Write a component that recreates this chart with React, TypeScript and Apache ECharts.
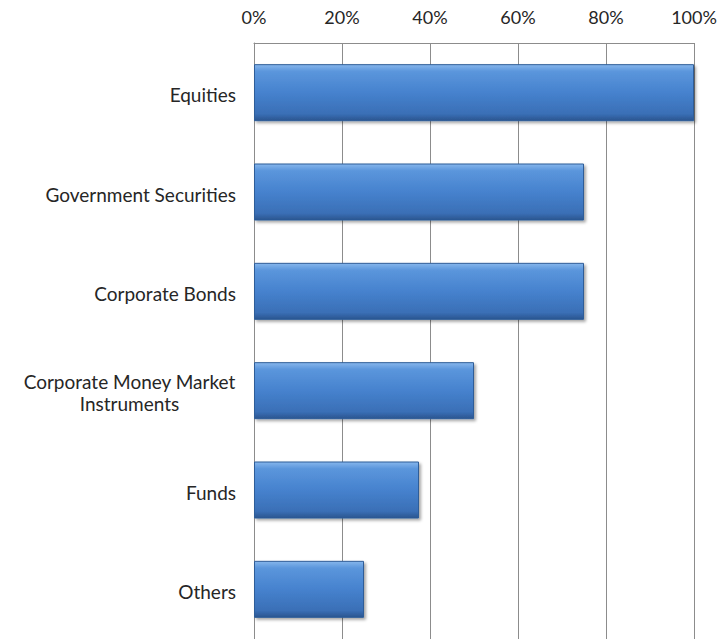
import React, { useEffect, useRef } from "react";
import * as echarts from "echarts";

const categories = [
  "Equities",
  "Government Securities",
  "Corporate Bonds",
  "Corporate Money Market\nInstruments",
  "Funds",
  "Others",
];
const values = [100, 75, 75, 50, 37.5, 25];
const xTicks = { min: 0, max: 100, interval: 20 };

const FONT = "Lato, 'Open Sans', sans-serif";
const CAT_SIZE = 19;
const TICK_SIZE = 18;

function measure(text: string): number {
  const c = document.createElement("canvas").getContext("2d");
  if (!c) return text.length * 9;
  c.font = `${CAT_SIZE}px ${FONT}`;
  return c.measureText(text).width;
}

export default function App() {
  const ref = useRef<HTMLDivElement>(null);
  useEffect(() => {
    if (!ref.current) return;
    const chart = echarts.init(ref.current, undefined, { renderer: "svg" });
    chart.setOption({
      animation: false,
      grid: { left: 254, top: 43, width: 440, height: 601, containLabel: false },
      xAxis: {
        type: "value",
        position: "top",
        min: xTicks.min,
        max: xTicks.max,
        interval: xTicks.interval,
        axisLine: { show: true, lineStyle: { color: "#8c8c8c", width: 1 } },
        axisTick: { show: false },
        splitLine: { show: true, lineStyle: { color: "#8c8c8c", width: 1 } },
        axisLabel: {
          formatter: "{value}%",
          margin: 17,
          color: "#262626",
          fontFamily: FONT,
          fontSize: TICK_SIZE,
        },
      },
      yAxis: {
        type: "category",
        inverse: true,
        data: categories,
        axisLine: { show: true, lineStyle: { color: "#8c8c8c", width: 1 } },
        axisTick: { show: false },
        axisLabel: {
          margin: 18,
          color: "#262626",
          fontFamily: FONT,
          fontSize: CAT_SIZE,
          lineHeight: 22,
          padding: [4, 0, 0, 0],
          formatter: (v: string) => {
            if (v.indexOf("\n") < 0) return v;
            return v
              .split("\n")
              .map((l) => `{c|${l}}`)
              .join("\n");
          },
          rich: {
            c: {
              width: Math.ceil(
                Math.max(measure("Corporate Money Market"), measure("Instruments"))
              ),
              align: "center",
              fontFamily: FONT,
              fontSize: CAT_SIZE,
              color: "#262626",
              lineHeight: 22,
            },
          },
        },
      },
      series: [
        {
          type: "bar",
          data: values,
          barWidth: 57,
          itemStyle: {
            color: new echarts.graphic.LinearGradient(0, 0, 0, 1, [
              { offset: 0, color: "#86b6ec" },
              { offset: 0.12, color: "#5b96dc" },
              { offset: 0.5, color: "#4682ce" },
              { offset: 0.88, color: "#3a6fb6" },
              { offset: 1, color: "#2a558f" },
            ]),
            borderColor: "#2f5d98",
            borderWidth: 1,
            shadowBlur: 3,
            shadowOffsetX: 2,
            shadowOffsetY: 2,
            shadowColor: "rgba(0,0,0,0.35)",
          },
        },
      ],
    });
    return () => chart.dispose();
  }, []);
  return (
    <div
      ref={ref}
      style={{ position: "fixed", left: 0, top: 0, width: 724, height: 639, background: "#fff" }}
    />
  );
}
